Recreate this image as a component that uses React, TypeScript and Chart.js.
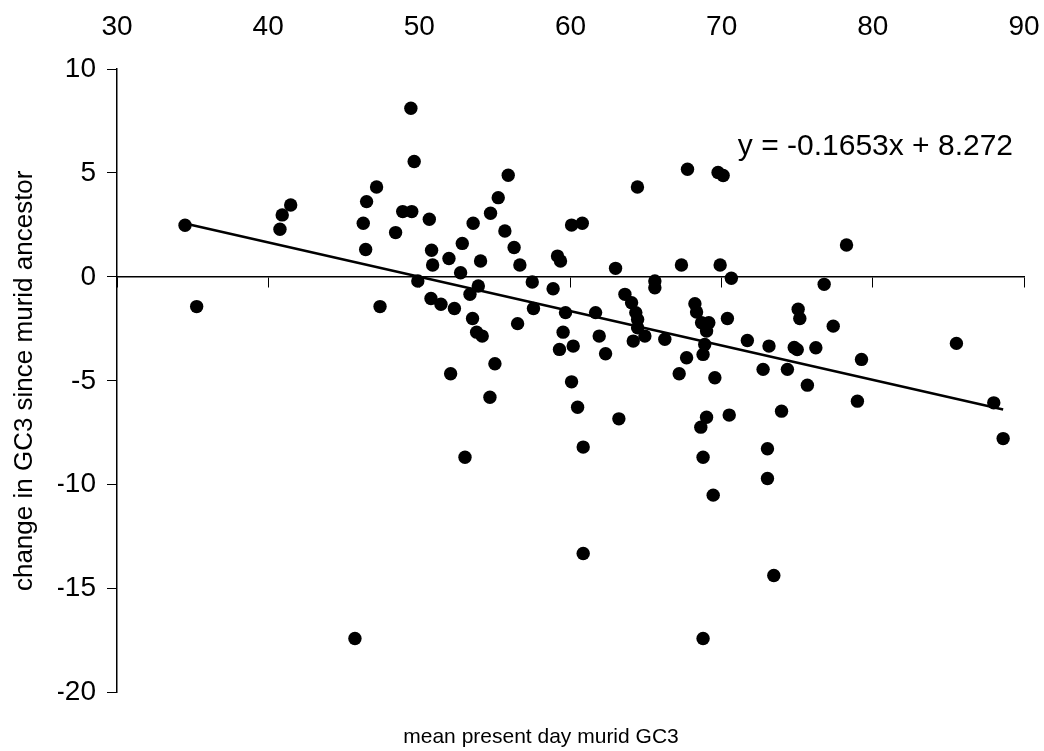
import React, { useEffect, useRef } from "react";
import { Chart, registerables } from "chart.js";

Chart.register(...registerables);

const FONT = '"Liberation Sans", Arial, Helvetica, sans-serif';

// mean present day murid GC3
const X_VALUES = [
  34.5, 35.27, 40.78, 40.93, 41.49, 46.45, 46.29, 46.51, 47.17, 47.4,
  48.43, 48.9, 49.5, 49.44, 49.66, 49.9, 50.66, 50.81, 50.88, 51.96,
  52.84, 52.73, 53.56, 54.05, 54.71, 55.22, 55.88, 55.66, 56.27, 56.65,
  59.14, 59.34, 60.07, 60.78, 62.98, 64.43, 67.74, 67.34, 69.76, 70.1,
  69.9, 78.26, 70.64, 76.78, 50.77, 51.43, 52.32, 53.9, 53.35, 53.52,
  53.79, 54.16, 52.07, 55.0, 54.67, 53.02, 56.5, 57.47, 57.55, 58.85,
  59.67, 59.51, 59.27, 60.18, 60.07, 60.47, 60.84, 61.66, 61.9, 62.32,
  63.2, 63.6, 64.04, 64.32, 64.44, 64.44, 64.15, 64.92, 65.58, 65.58,
  66.24, 67.19, 67.68, 68.23, 68.34, 68.67, 69.15, 69.0, 68.88, 68.77,
  69.55, 69.0, 68.62, 68.77, 69.44, 70.38, 71.7, 73.13, 72.74, 75.06,
  75.17, 74.8, 75.0, 74.35, 75.67, 76.23, 77.38, 79.25, 78.98, 73.96,
  70.5, 73.03, 73.03, 85.53, 88.0, 88.62, 45.74, 60.84, 68.77, 73.45,
];

// change in GC3 since murid ancestor
const Y_VALUES = [
  2.48, -1.43, 2.29, 2.98, 3.46, 1.32, 2.58, 3.62, 4.32, -1.43,
  2.13, 3.14, 3.14, 8.11, 5.55, -0.2, 2.77, 1.28, 0.57, 0.88,
  1.61, 0.2, 2.58, 0.76, 3.06, 3.81, 4.89, 2.21, 1.41, 0.57,
  1.0, 0.76, 2.49, 2.58, 0.41, 4.32, 5.18, 0.57, 5.02, 4.88,
  0.57, 1.53, -0.07, -0.36, -1.04, -1.32, -1.52, -0.44, -0.84, -2.0,
  -2.66, -2.85, -4.66, -4.18, -5.79, -8.68, -2.25, -0.25, -1.52, -0.57,
  -1.72, -2.66, -3.49, -3.33, -5.05, -6.27, -8.19, -1.72, -2.85, -3.7,
  -6.83, -0.84, -1.24, -1.72, -2.05, -2.45, -3.09, -2.85, -0.2, -0.52,
  -3.0, -4.66, -3.89, -1.29, -1.69, -2.21, -2.21, -2.61, -3.25, -3.73,
  -4.85, -6.75, -7.23, -8.68, -10.5, -2.0, -3.06, -3.33, -4.45, -1.56,
  -2.0, -3.4, -3.5, -4.45, -5.21, -3.41, -2.37, -3.97, -5.98, -6.46,
  -6.65, -8.27, -9.7, -3.2, -6.06, -7.78, -17.4, -13.31, -17.4, -14.37,
];

const X_MIN = 30;
const X_MAX = 90;
const X_STEP = 10;
const Y_MIN = -20;
const Y_MAX = 10;
const Y_STEP = 5;

// linear trendline as printed on the chart
const TREND_SLOPE = -0.1653;
const TREND_INTERCEPT = 8.272;
const EQUATION_LABEL = "y = -0.1653x + 8.272";
const EQUATION_ANCHOR_X = 71.07;
const EQUATION_ANCHOR_Y = 6.28;

const X_TITLE = "mean present day murid GC3";
const Y_TITLE = "change in GC3 since murid ancestor";

const equationPlugin = {
  id: "equationLabel",
  afterDatasetsDraw(chart: any) {
    const { ctx, scales } = chart;
    const px = scales.x.getPixelForValue(EQUATION_ANCHOR_X);
    const py = scales.y.getPixelForValue(EQUATION_ANCHOR_Y);
    ctx.save();
    ctx.font = `30px ${FONT}`;
    ctx.fillStyle = "#000";
    ctx.textAlign = "left";
    ctx.textBaseline = "middle";
    ctx.fillText(EQUATION_LABEL, px, py);
    ctx.restore();
  },
};

export default function App() {
  const canvasRef = useRef<HTMLCanvasElement | null>(null);

  useEffect(() => {
    const canvas = canvasRef.current;
    if (!canvas) return;
    const points = X_VALUES.map((x, i) => ({ x, y: Y_VALUES[i] }));
    const xLo = Math.min(...X_VALUES);
    const xHi = Math.max(...X_VALUES);
    const trend = [
      { x: xLo, y: TREND_SLOPE * xLo + TREND_INTERCEPT },
      { x: xHi, y: TREND_SLOPE * xHi + TREND_INTERCEPT },
    ];

    const chart = new Chart(canvas, {
      type: "scatter",
      data: {
        datasets: [
          {
            label: "trend",
            data: trend,
            showLine: true,
            borderColor: "#000",
            borderWidth: 2.5,
            pointRadius: 0,
            xAxisID: "x",
            yAxisID: "y",
          } as any,
          {
            label: "genes",
            data: points,
            backgroundColor: "#000",
            borderColor: "#000",
            borderWidth: 0,
            pointRadius: 6.7,
            pointHoverRadius: 6.7,
            xAxisID: "x",
            yAxisID: "y",
          } as any,
        ],
      },
      options: {
        responsive: false,
        animation: false,
        devicePixelRatio: 1,
        layout: { padding: { left: 58, right: 20, top: 0, bottom: 0 } },
        plugins: {
          legend: { display: false },
          tooltip: { enabled: false },
          title: {
            display: true,
            position: "bottom",
            text: X_TITLE,
            color: "#000",
            font: { size: 21, family: FONT, weight: "normal" },
            padding: { top: 32, bottom: 1.2 },
          },
        },
        scales: {
          x: {
            type: "linear",
            position: { y: 0 } as any,
            min: X_MIN,
            max: X_MAX,
            ticks: { display: false, stepSize: X_STEP },
            grid: {
              drawOnChartArea: false,
              drawTicks: true,
              tickLength: 10,
              color: "#000",
              lineWidth: 1,
            },
            border: { display: true, color: "#000", width: 1.5 },
          },
          x2: {
            type: "linear",
            position: "top",
            min: X_MIN,
            max: X_MAX,
            ticks: {
              stepSize: X_STEP,
              padding: 0,
              color: "#000",
              font: { size: 28, family: FONT },
            },
            grid: { display: false, drawTicks: true, tickLength: 25 },
            border: { display: false },
            afterFit(scale: any) {
              scale.height = 69;
            },
          },
          y: {
            type: "linear",
            position: "left",
            min: Y_MIN,
            max: Y_MAX,
            ticks: {
              stepSize: Y_STEP,
              padding: 11,
              color: "#000",
              font: { size: 28, family: FONT },
            },
            grid: {
              drawOnChartArea: false,
              drawTicks: true,
              tickLength: 10,
              color: "#000",
              lineWidth: 1,
            },
            border: { display: true, color: "#000", width: 1.5 },
            title: {
              display: true,
              text: Y_TITLE,
              color: "#000",
              font: { size: 26, family: FONT },
              padding: { top: -48.6, bottom: 0 },
            },
            afterFit(scale: any) {
              scale.width = 59;
            },
          },
        },
      } as any,
      plugins: [equationPlugin],
    });

    return () => chart.destroy();
  }, []);

  return (
    <div style={{ position: "absolute", left: 0, top: 0, width: 1044, height: 751, background: "#fff" }}>
      <canvas ref={canvasRef} width={1044} height={751} style={{ display: "block" }} />
    </div>
  );
}
